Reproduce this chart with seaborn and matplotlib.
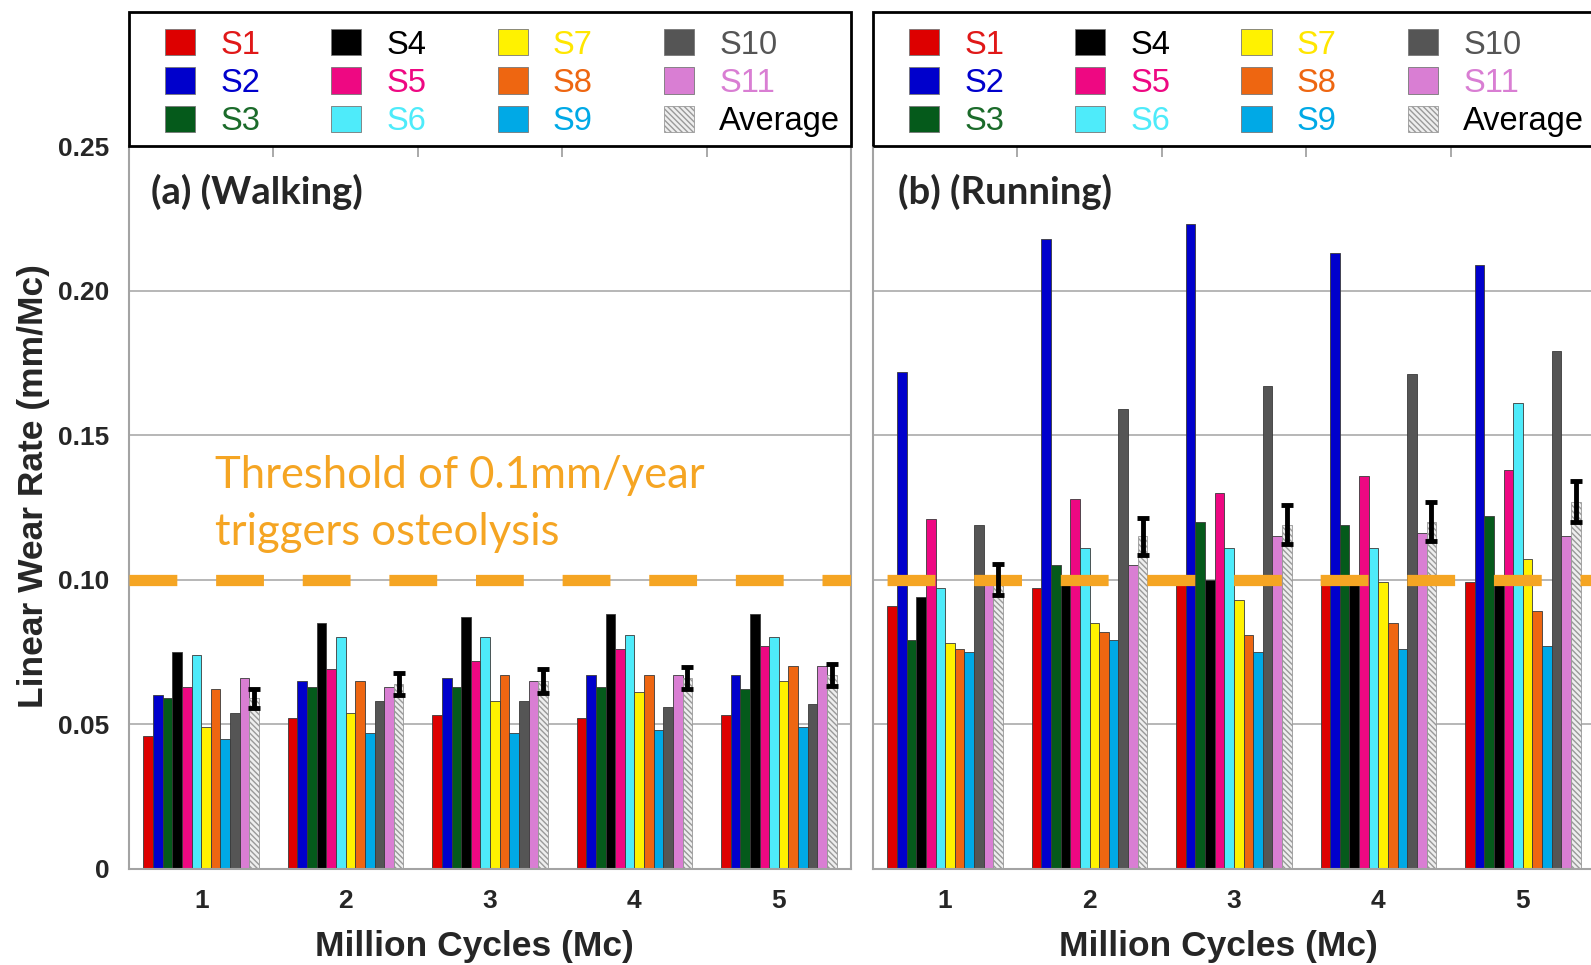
import numpy as np
import pandas as pd
import matplotlib
matplotlib.use("Agg")
import matplotlib.pyplot as plt
from matplotlib.patches import Patch, Rectangle
import seaborn as sns

# values (mm/Mc)
cycles = ['1', '2', '3', '4', '5']
subjects = ['S1', 'S2', 'S3', 'S4', 'S5', 'S6', 'S7', 'S8', 'S9', 'S10', 'S11', 'Average']

walk_s1 = [0.046, 0.052, 0.053, 0.052, 0.053]
walk_s2 = [0.060, 0.065, 0.066, 0.067, 0.067]
walk_s3 = [0.059, 0.063, 0.063, 0.063, 0.062]
walk_s4 = [0.075, 0.085, 0.087, 0.088, 0.088]
walk_s5 = [0.063, 0.069, 0.072, 0.076, 0.077]
walk_s6 = [0.074, 0.080, 0.080, 0.081, 0.080]
walk_s7 = [0.049, 0.054, 0.058, 0.061, 0.065]
walk_s8 = [0.062, 0.065, 0.067, 0.067, 0.070]
walk_s9 = [0.045, 0.047, 0.047, 0.048, 0.049]
walk_s10 = [0.054, 0.058, 0.058, 0.056, 0.057]
walk_s11 = [0.066, 0.063, 0.065, 0.067, 0.070]
walk_avg = [0.059, 0.064, 0.065, 0.066, 0.067]
walk_err = [0.0033, 0.0038, 0.0041, 0.0039, 0.0039]

run_s1 = [0.091, 0.097, 0.098, 0.099, 0.099]
run_s2 = [0.172, 0.218, 0.223, 0.213, 0.209]
run_s3 = [0.079, 0.105, 0.120, 0.119, 0.122]
run_s4 = [0.094, 0.100, 0.100, 0.100, 0.100]
run_s5 = [0.121, 0.128, 0.130, 0.136, 0.138]
run_s6 = [0.097, 0.111, 0.111, 0.111, 0.161]
run_s7 = [0.078, 0.085, 0.093, 0.099, 0.107]
run_s8 = [0.076, 0.082, 0.081, 0.085, 0.089]
run_s9 = [0.075, 0.079, 0.075, 0.076, 0.077]
run_s10 = [0.119, 0.159, 0.167, 0.171, 0.179]
run_s11 = [0.098, 0.105, 0.115, 0.116, 0.115]
run_avg = [0.100, 0.115, 0.119, 0.120, 0.127]
run_err = [0.0054, 0.0064, 0.0067, 0.0067, 0.0070]

threshold = 0.1
y_ticks = [0, 0.05, 0.10, 0.15, 0.20, 0.25]
y_ticklabels = ['0', '0.05', '0.10', '0.15', '0.20', '0.25']
panel_titles = ['(a) (Walking)', '(b) (Running)']
threshold_lines = ['Threshold of 0.1mm/year', 'triggers osteolysis']
xlabel = 'Million Cycles (Mc)'
ylabel = 'Linear Wear Rate (mm/Mc)'

bar_colors = {'S1': '#dd0000', 'S2': '#0000cc', 'S3': '#055a1b', 'S4': '#000000',
              'S5': '#ee0882', 'S6': '#4eebfa', 'S7': '#fff200', 'S8': '#ee6611',
              'S9': '#00a9e6', 'S10': '#555555', 'S11': '#d97ed3', 'Average': '#eeeeee'}
text_colors = dict(bar_colors, S1='#e01818', S3='#1b6b2a', S7='#ffe600', Average='#000000')
orange = '#f5a523'
gray = '#a3a3a3'
hatch = '\\\\\\\\\\\\'


def long_form(series, avg):
    rows = []
    for subj, vals in zip(subjects, series + [avg]):
        for c, v in zip(cycles, vals):
            rows.append({'cycle': c, 'subject': subj, 'rate': v})
    return pd.DataFrame(rows)


walk_df = long_form([walk_s1, walk_s2, walk_s3, walk_s4, walk_s5, walk_s6,
                     walk_s7, walk_s8, walk_s9, walk_s10, walk_s11], walk_avg)
run_df = long_form([run_s1, run_s2, run_s3, run_s4, run_s5, run_s6,
                    run_s7, run_s8, run_s9, run_s10, run_s11], run_avg)

sns.set_style('white')
plt.rcParams['font.family'] = ['Liberation Sans', 'DejaVu Sans']

fig = plt.figure(figsize=(15.91, 9.65), dpi=100)
ax_a = fig.add_axes([0.0811, 0.0999, 0.4538, 0.7487])
ax_b = fig.add_axes([0.5487, 0.0999, 0.4538, 0.7487])

panels = [(ax_a, walk_df, walk_avg, walk_err, 0.0), (ax_b, run_df, run_avg, run_err, 6.45)]
for i, (ax, df, avg, err, dash_off) in enumerate(panels):
    sns.barplot(data=df, x='cycle', y='rate', hue='subject', hue_order=subjects,
                order=cycles, palette=bar_colors, saturation=1, errorbar=None, width=0.8,
                edgecolor='#3a3a3a', linewidth=0.6, legend=False, ax=ax)

    # hatched average bars + their error bars
    avg_bars = ax.containers[-1]
    xs = []
    for p in avg_bars.patches:
        p.set_hatch(hatch)
        p.set_edgecolor('#999999')
        xs.append(p.get_x() + p.get_width() / 2)
    ax.errorbar(xs, avg, yerr=err, fmt='none', ecolor='black', elinewidth=3.5,
                capsize=4.5, capthick=3.5, zorder=7)

    ax.axhline(threshold, color=orange, lw=8.1, ls=(dash_off, (4.25, 3.45)),
               dash_capstyle='butt', zorder=6)

    ax.set_ylim(0, 0.25)
    ax.set_xlim(-0.5, len(cycles) - 0.5)
    ax.set_axisbelow(True)
    ax.yaxis.grid(True, color=gray, lw=1.1)
    ax.set_yticks(y_ticks)
    if i == 0:
        ax.set_yticklabels(y_ticklabels, fontsize=19, fontweight='bold')
    else:
        ax.set_yticklabels([])
    ax.tick_params(axis='y', length=0, pad=14)
    ax.set_xticks(range(len(cycles)))
    ax.set_xticklabels(cycles, fontsize=19, fontweight='bold')
    ax.set_xticks(np.arange(-0.5, len(cycles), 1), minor=True)
    ax.tick_params(axis='x', which='major', length=0, pad=15)
    ax.tick_params(axis='x', which='minor', length=12, width=1.3, color=gray, direction='out')
    top = ax.secondary_xaxis('top')
    top.set_xticks(np.arange(-0.5, len(cycles), 1))
    top.tick_params(direction='in', length=8, width=1.3, color=gray, labeltop=False)
    top.spines['top'].set_visible(False)

    ax.spines['top'].set_visible(False)
    for s in ['left', 'right', 'bottom']:
        ax.spines[s].set_color(gray)
        ax.spines[s].set_linewidth(1.5)

    ax.set_xlabel(xlabel, fontsize=25.5, fontweight='bold')
    ax.xaxis.set_label_coords(0.478, -0.085)
    ax.set_ylabel('')

    ax.text(0.03 if i == 0 else 0.035, 0.2301, panel_titles[i], transform=ax.get_yaxis_transform(),
            fontsize=27.5, fontweight='bold', family='Lato', va='baseline', ha='left', zorder=8)

    # legend box sitting on top of the plot area
    ax.add_patch(Rectangle((0, 1), 1, 0.1853, transform=ax.transAxes, fill=False,
                           edgecolor='black', lw=2, clip_on=False, zorder=9))
    handles = []
    for s in subjects:
        if s == 'Average':
            handles.append(Patch(facecolor=bar_colors[s], edgecolor='#999999',
                                 hatch=hatch, lw=0.6, label=s))
        else:
            handles.append(Patch(facecolor=bar_colors[s], edgecolor='#777777', lw=0.6, label=s))
    leg = ax.legend(handles=handles, ncol=4, mode='expand', loc='center',
                    bbox_to_anchor=(0.0499, 0.9945, 0.935, 0.1853), bbox_transform=ax.transAxes,
                    frameon=False, borderpad=0, borderaxespad=0, handlelength=0.92,
                    handleheight=0.85, handletextpad=0.78, labelspacing=0.21,
                    prop={'family': 'Liberation Sans', 'size': 23.5})
    for t, s in zip(leg.get_texts(), subjects):
        t.set_color(text_colors[s])

ax_a.text(0.119, 0.1318, threshold_lines[0], transform=ax_a.get_yaxis_transform(),
          color=orange, fontsize=31.4, family='Lato', va='baseline', ha='left', zorder=8)
ax_a.text(0.119, 0.1118, threshold_lines[1], transform=ax_a.get_yaxis_transform(),
          color=orange, fontsize=31.4, family='Lato', va='baseline', ha='left', zorder=8)

fig.text(0.021, 0.4964, ylabel, rotation=90, ha='center', va='center',
         fontsize=25.5, fontweight='bold')

fig.savefig('out.png', dpi=100)
